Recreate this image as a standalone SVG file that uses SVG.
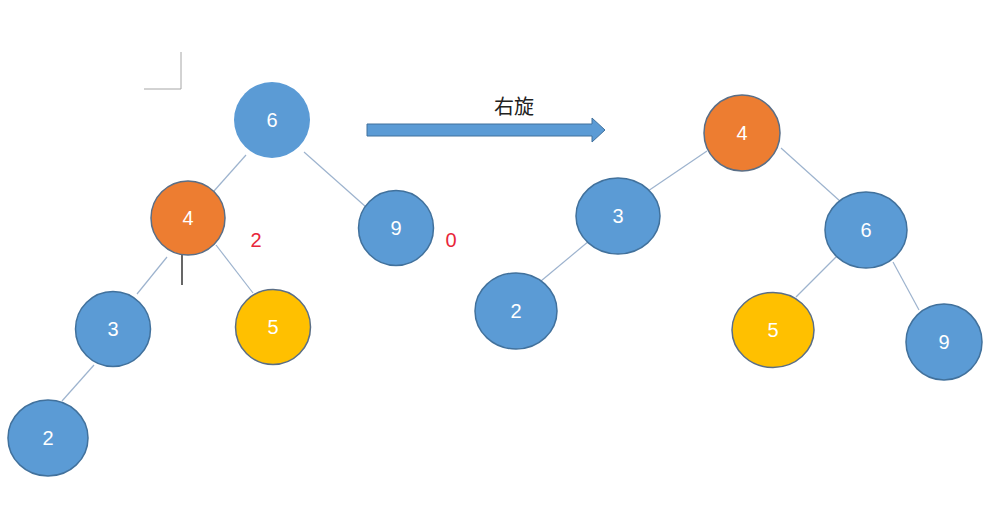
<svg xmlns="http://www.w3.org/2000/svg" width="995" height="520" viewBox="0 0 995 520">
<style>
.blue{fill:#5B9BD5;stroke:#41719C;stroke-width:1.5}
.orange{fill:#ED7D31;stroke:#5A6E86;stroke-width:1.5}
.yellow{fill:#FFC000;stroke:#5A6E86;stroke-width:1.5}
.lbl{font-family:"Liberation Sans",Arial,sans-serif;font-size:20px;fill:#FFFFFF;text-anchor:middle}
.edge{stroke:#9DB3CE;stroke-width:1.2;fill:none}
.red{font-family:"Liberation Sans",Arial,sans-serif;font-size:20px;fill:#E8263A;text-anchor:middle}
</style>
<rect width="995" height="520" fill="#FFFFFF"/>
<path d="M181 52 V89 H144" stroke="#A6A6A6" stroke-width="1" fill="none"/>
<g id="connectors">
<line class="edge" x1="246" y1="155" x2="214" y2="191"/>
<line class="edge" x1="304" y1="152" x2="366" y2="207"/>
<line class="edge" x1="167" y1="257" x2="137" y2="294"/>
<line class="edge" x1="216" y1="245" x2="253" y2="293"/>
<line class="edge" x1="94" y1="365" x2="62" y2="401"/>
<line class="edge" x1="707" y1="151" x2="648" y2="191"/>
<line class="edge" x1="781" y1="148" x2="841" y2="202"/>
<line class="edge" x1="589" y1="241" x2="541" y2="281"/>
<line class="edge" x1="836" y1="257" x2="796" y2="297"/>
<line class="edge" x1="893" y1="262" x2="919" y2="310"/>
</g>
<line x1="182" y1="254" x2="182" y2="285" stroke="#000000" stroke-width="1.2"/>
<g id="L6"><circle cx="272" cy="120" r="38" fill="#5B9BD5"/><text class="lbl" x="272" y="127">6</text></g>
<g id="L4"><circle class="orange" cx="188" cy="218" r="37"/><text class="lbl" x="188" y="225">4</text></g>
<g id="L9"><circle class="blue" cx="396" cy="228" r="37.5"/><text class="lbl" x="396" y="235">9</text></g>
<g id="L3"><circle class="blue" cx="113" cy="329" r="37.5"/><text class="lbl" x="113" y="336">3</text></g>
<g id="L5"><circle class="yellow" cx="273" cy="327" r="37.5"/><text class="lbl" x="273" y="334">5</text></g>
<g id="L2"><ellipse class="blue" cx="48" cy="438" rx="40" ry="38"/><text class="lbl" x="48" y="445">2</text></g>
<text class="red" x="256" y="247">2</text>
<text class="red" x="451" y="247">0</text>
<g id="arrow">
<path d="M367 124 H592 V118 L605 130 L592 142 V136 H367 Z" fill="#5B9BD5" stroke="#41719C" stroke-width="1"/>
<text x="514" y="114" font-family="'Noto Sans CJK SC',sans-serif" font-size="20" fill="#222222" text-anchor="middle">右旋</text>
</g>
<g id="R4"><circle class="orange" cx="742" cy="133" r="38"/><text class="lbl" x="742" y="140">4</text></g>
<g id="R3"><ellipse class="blue" cx="618" cy="216" rx="42" ry="38"/><text class="lbl" x="618" y="223">3</text></g>
<g id="R6"><ellipse class="blue" cx="866" cy="230" rx="41" ry="38"/><text class="lbl" x="866" y="237">6</text></g>
<g id="R2"><ellipse class="blue" cx="516" cy="311" rx="41" ry="38"/><text class="lbl" x="516" y="318">2</text></g>
<g id="R5"><ellipse class="yellow" cx="773" cy="330" rx="41" ry="37.5"/><text class="lbl" x="773" y="337">5</text></g>
<g id="R9"><circle class="blue" cx="944" cy="342" r="38"/><text class="lbl" x="944" y="349">9</text></g>
</svg>
